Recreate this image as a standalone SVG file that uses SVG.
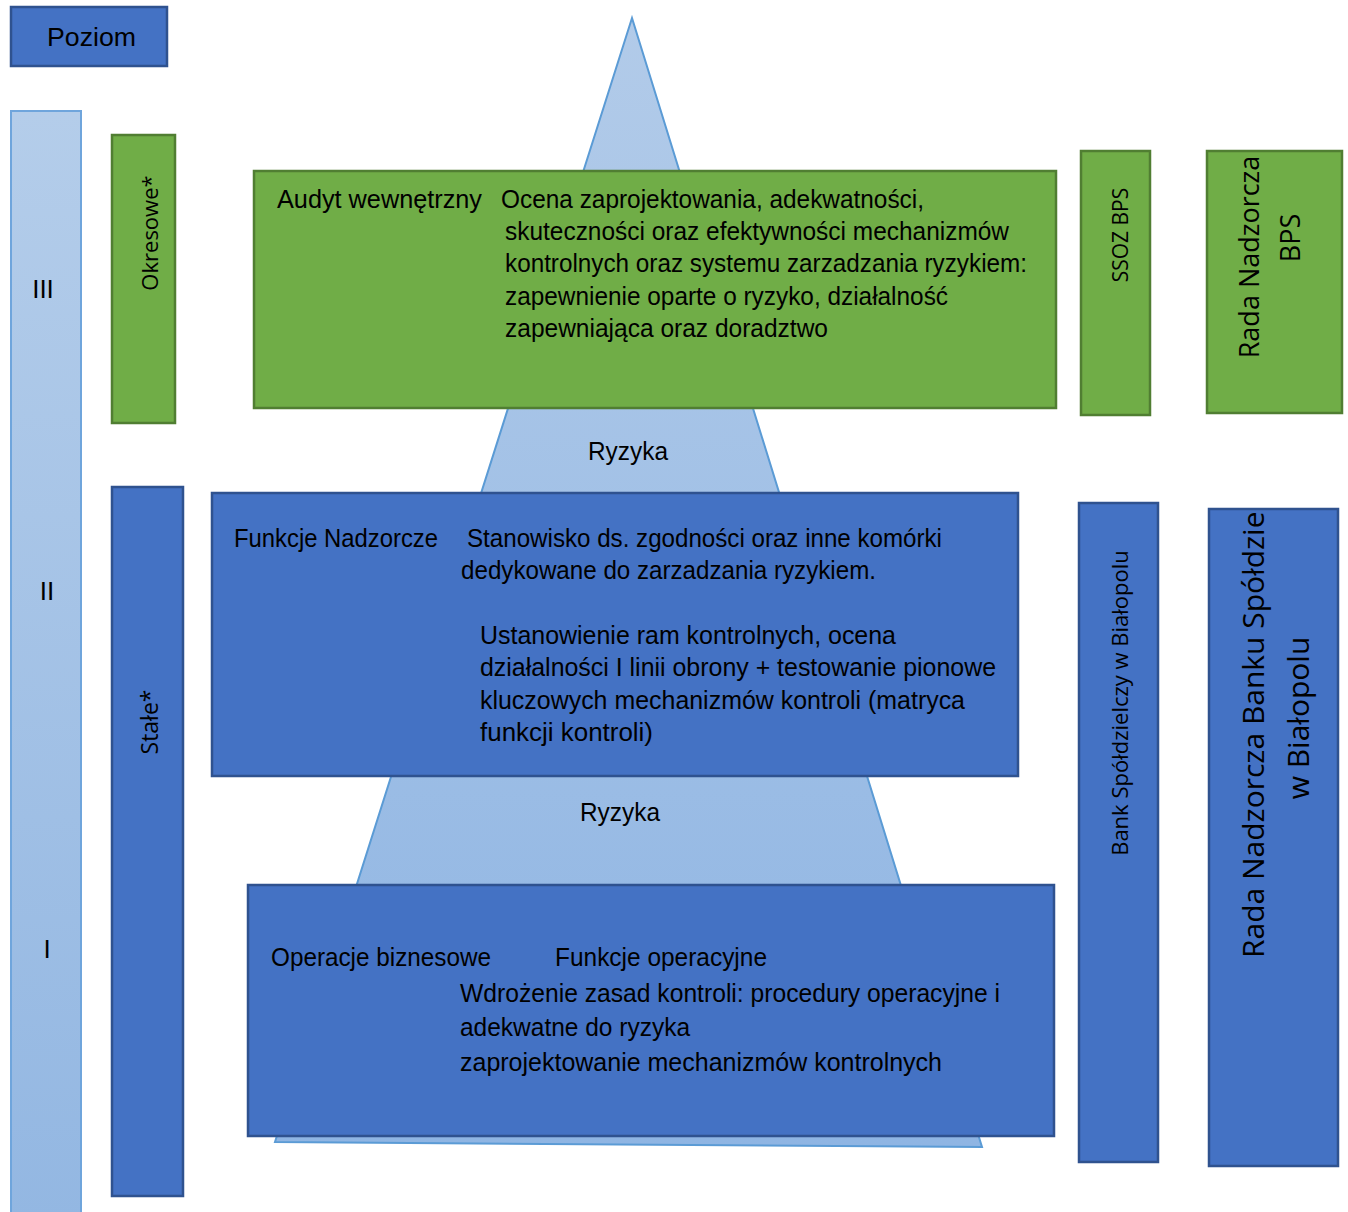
<svg xmlns="http://www.w3.org/2000/svg" width="1348" height="1212" viewBox="0 0 1348 1212">
<defs>
<linearGradient id="colGrad" x1="0" y1="0" x2="0" y2="1">
<stop offset="0" stop-color="#b4cdea"/>
<stop offset="1" stop-color="#93b7e2"/>
</linearGradient>
<linearGradient id="pyrGrad" x1="0" y1="0" x2="0" y2="1">
<stop offset="0" stop-color="#b2cbe9"/>
<stop offset="1" stop-color="#8fb5e3"/>
</linearGradient>
<style>
.blue{fill:#4472c4;stroke:#2f528f;stroke-width:2.5}
.green{fill:#70ad47;stroke:#507e32;stroke-width:2.5}
.t{font-family:"Liberation Sans",Arial,sans-serif;font-size:25px;fill:#000}
.v{font-family:"Open Sans","DejaVu Sans",sans-serif;fill:#000}
.lvl{font-family:"Liberation Sans",Arial,sans-serif;font-size:26px;fill:#000}
</style>
</defs>
<rect width="1348" height="1212" fill="#fff"/>

<g id="pyramid">
<polygon points="632,18 982,1147 275,1142" fill="url(#pyrGrad)" stroke="#5b9bd5" stroke-width="2"/>
<text class="t" x="588" y="460" font-size="27" textLength="80" lengthAdjust="spacingAndGlyphs">Ryzyka</text>
<text class="t" x="580" y="821" font-size="27" textLength="80" lengthAdjust="spacingAndGlyphs">Ryzyka</text>
</g>

<g id="poziom">
<rect x="11" y="7" width="156" height="59" class="blue"/>
<text class="t" x="47" y="46" font-size="30" textLength="89" lengthAdjust="spacingAndGlyphs">Poziom</text>
</g>

<g id="levels-column">
<rect x="11" y="111" width="70" height="1110" fill="url(#colGrad)" stroke="#6fa5dc" stroke-width="2"/>
<text class="lvl" x="43" y="298" text-anchor="middle">III</text>
<text class="lvl" x="47" y="600" text-anchor="middle">II</text>
<text class="lvl" x="47" y="958" text-anchor="middle">I</text>
</g>

<g id="okresowe">
<rect x="112" y="135" width="63" height="288" class="green"/>
<text class="v" font-size="22" text-anchor="middle" dominant-baseline="central" transform="translate(149,233) rotate(-90)">Okresowe*</text>
</g>

<g id="stale">
<rect x="112" y="487" width="71" height="709" class="blue"/>
<text class="v" font-size="23" text-anchor="middle" dominant-baseline="central" transform="translate(149,722) rotate(-90)">Stałe*</text>
</g>

<g id="audyt">
<rect x="254" y="171" width="802" height="237" class="green"/>
<text class="t" x="277" y="208" textLength="205" lengthAdjust="spacingAndGlyphs">Audyt wewnętrzny</text>
<text class="t" x="501" y="208" textLength="423" lengthAdjust="spacingAndGlyphs">Ocena zaprojektowania, adekwatności,</text>
<text class="t" x="505" y="240" textLength="504" lengthAdjust="spacingAndGlyphs">skuteczności oraz efektywności mechanizmów</text>
<text class="t" x="505" y="272" textLength="522" lengthAdjust="spacingAndGlyphs">kontrolnych oraz systemu zarzadzania ryzykiem:</text>
<text class="t" x="505" y="305" textLength="443" lengthAdjust="spacingAndGlyphs">zapewnienie oparte o ryzyko, działalność</text>
<text class="t" x="505" y="337" textLength="323" lengthAdjust="spacingAndGlyphs">zapewniająca oraz doradztwo</text>
</g>

<g id="funkcje-nadzorcze">
<rect x="212" y="493" width="806" height="283" class="blue"/>
<text class="t" x="234" y="547" textLength="204" lengthAdjust="spacingAndGlyphs">Funkcje Nadzorcze</text>
<text class="t" x="467" y="547" textLength="475" lengthAdjust="spacingAndGlyphs">Stanowisko ds. zgodności oraz inne komórki</text>
<text class="t" x="461" y="579" textLength="415" lengthAdjust="spacingAndGlyphs">dedykowane do zarzadzania ryzykiem.</text>
<text class="t" x="480" y="644" textLength="416" lengthAdjust="spacingAndGlyphs">Ustanowienie ram kontrolnych, ocena</text>
<text class="t" x="480" y="676" textLength="516" lengthAdjust="spacingAndGlyphs">działalności I linii obrony + testowanie pionowe</text>
<text class="t" x="480" y="709" textLength="485" lengthAdjust="spacingAndGlyphs">kluczowych mechanizmów kontroli (matryca</text>
<text class="t" x="480" y="741" textLength="173" lengthAdjust="spacingAndGlyphs">funkcji kontroli)</text>
</g>

<g id="operacje-biznesowe">
<rect x="248" y="885" width="806" height="251" class="blue"/>
<text class="t" x="271" y="966" textLength="220" lengthAdjust="spacingAndGlyphs">Operacje biznesowe</text>
<text class="t" x="555" y="966" textLength="212" lengthAdjust="spacingAndGlyphs">Funkcje operacyjne</text>
<text class="t" x="460" y="1002" textLength="540" lengthAdjust="spacingAndGlyphs">Wdrożenie zasad kontroli: procedury operacyjne i</text>
<text class="t" x="460" y="1036" textLength="230" lengthAdjust="spacingAndGlyphs">adekwatne do ryzyka</text>
<text class="t" x="460" y="1071" textLength="482" lengthAdjust="spacingAndGlyphs">zaprojektowanie mechanizmów kontrolnych</text>
</g>

<g id="ssoz-bps">
<rect x="1081" y="151" width="69" height="264" class="green"/>
<text class="v" font-size="21" text-anchor="middle" dominant-baseline="central" transform="translate(1120,235) rotate(-90)">SSOZ BPS</text>
</g>

<g id="rada-nadzorcza-bps">
<rect x="1207" y="151" width="135" height="262" class="green"/>
<text class="v" font-size="27" text-anchor="middle" dominant-baseline="central" transform="translate(1248,257) rotate(-90)">Rada Nadzorcza</text>
<text class="v" font-size="27" text-anchor="middle" dominant-baseline="central" transform="translate(1289,238) rotate(-90)">BPS</text>
</g>

<g id="bank-spoldzielczy">
<rect x="1079" y="503" width="79" height="659" class="blue"/>
<text class="v" font-size="22" text-anchor="middle" dominant-baseline="central" transform="translate(1119,703) rotate(-90)">Bank Spółdzielczy w Białopolu</text>
</g>

<g id="rada-nadzorcza-banku">
<rect x="1209" y="509" width="129" height="657" class="blue"/>
<text class="v" font-size="30" dominant-baseline="central" transform="translate(1252,958) rotate(-90)">Rada Nadzorcza Banku Spółdzie</text>
<text class="v" font-size="30" text-anchor="middle" dominant-baseline="central" transform="translate(1297,718) rotate(-90)">w Białopolu</text>
</g>

<g id="connectors"/>
</svg>
